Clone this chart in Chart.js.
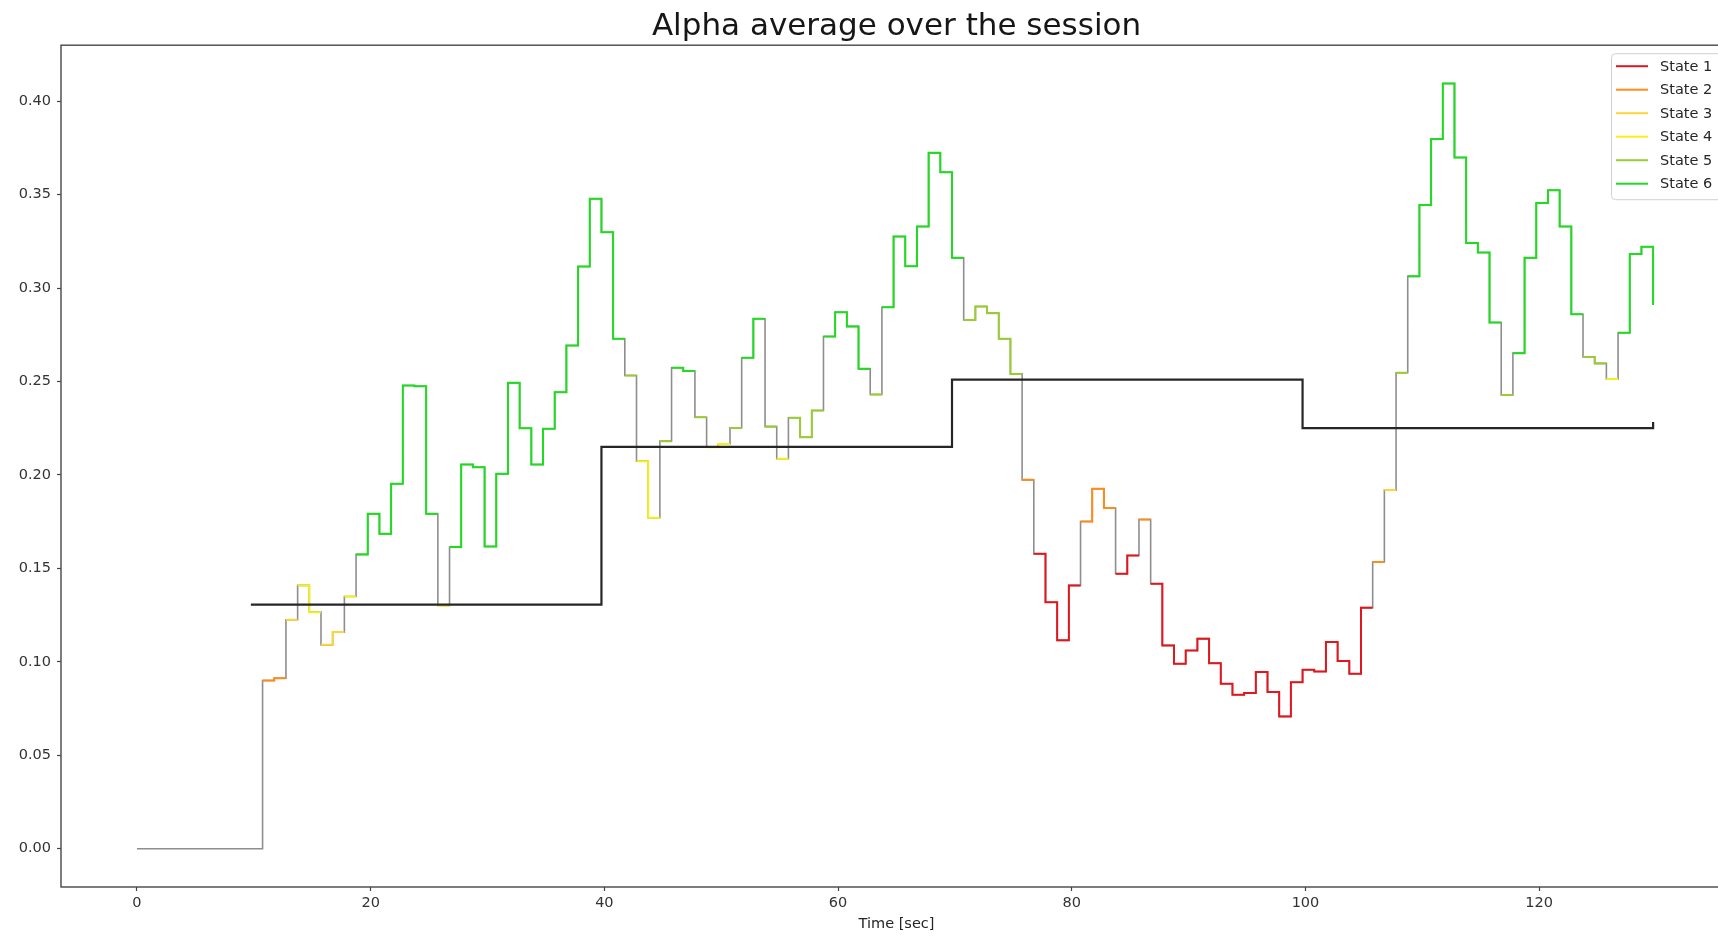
<!DOCTYPE html>
<html>
<head>
<meta charset="utf-8">
<title>Alpha average over the session</title>
<script src="https://cdn.jsdelivr.net/npm/chart.js@4.4.1/dist/chart.umd.min.js"></script>
<style>
  html, body { margin: 0; padding: 0; background: #ffffff; }
  #wrap { width: 1718px; height: 936px; overflow: hidden; position: relative; background: #ffffff; }
  canvas { display: block; }
</style>
</head>
<body>
<div id="wrap"><canvas id="chart" width="1732" height="936"></canvas></div>
<script>
// ---- series data -------------------------------------------------------
const stateNames  = ['State 1', 'State 2', 'State 3', 'State 4', 'State 5', 'State 6'];
const stateColors = ['#e3161e', '#ff8c1a', '#ffd43a', '#f5ef1a', '#9acd32', '#1fdc1f'];

// start time [sec] of each held alpha value; the last entry closes the series
const alphaTimes = [
  0, 10.75, 11.75, 12.75, 13.75, 14.75, 15.75, 16.75, 17.75, 18.75,
  19.75, 20.75, 21.75, 22.75, 23.75, 24.75, 25.75, 26.75, 27.75, 28.75,
  29.75, 30.75, 31.75, 32.75, 33.75, 34.75, 35.75, 36.75, 37.75, 38.75,
  39.75, 40.75, 41.75, 42.75, 43.75, 44.75, 45.75, 46.75, 47.75, 48.75,
  49.75, 50.75, 51.75, 52.75, 53.75, 54.75, 55.75, 56.75, 57.75, 58.75,
  59.75, 60.75, 61.75, 62.75, 63.75, 64.75, 65.75, 66.75, 67.75, 68.75,
  69.75, 70.75, 71.75, 72.75, 73.75, 74.75, 75.75, 76.75, 77.75, 78.75,
  79.75, 80.75, 81.75, 82.75, 83.75, 84.75, 85.75, 86.75, 87.75, 88.75,
  89.75, 90.75, 91.75, 92.75, 93.75, 94.75, 95.75, 96.75, 97.75, 98.75,
  99.75, 100.75, 101.75, 102.75, 103.75, 104.75, 105.75, 106.75, 107.75, 108.75,
  109.75, 110.75, 111.75, 112.75, 113.75, 114.75, 115.75, 116.75, 117.75, 118.75,
  119.75, 120.75, 121.75, 122.75, 123.75, 124.75, 125.75, 126.75, 127.75, 128.75,
  129.75
];
const alphaValues = [
  0.0000, 0.0900, 0.0912, 0.1225, 0.1409, 0.1266, 0.1091, 0.1159, 0.1350, 0.1575,
  0.1792, 0.1685, 0.1953, 0.2479, 0.2475, 0.1792, 0.1302, 0.1614, 0.2056, 0.2041,
  0.1617, 0.2006, 0.2493, 0.2250, 0.2056, 0.2247, 0.2443, 0.2693, 0.3116, 0.3478,
  0.3299, 0.2729, 0.2532, 0.2074, 0.1771, 0.2181, 0.2574, 0.2556, 0.2309, 0.2149,
  0.2166, 0.2252, 0.2627, 0.2836, 0.2259, 0.2087, 0.2306, 0.2202, 0.2345, 0.2741,
  0.2871, 0.2795, 0.2568, 0.2431, 0.2898, 0.3276, 0.3117, 0.3330, 0.3724, 0.3620,
  0.3162, 0.2830, 0.2902, 0.2866, 0.2729, 0.2541, 0.1974, 0.1578, 0.1319, 0.1115,
  0.1409, 0.1751, 0.1926, 0.1823, 0.1471, 0.1569, 0.1762, 0.1418, 0.1088, 0.0990,
  0.1061, 0.1124, 0.0993, 0.0883, 0.0824, 0.0833, 0.0945, 0.0838, 0.0708, 0.0891,
  0.0958, 0.0948, 0.1106, 0.1004, 0.0936, 0.1290, 0.1534, 0.1919, 0.2547, 0.3063,
  0.3445, 0.3798, 0.4095, 0.3699, 0.3241, 0.3191, 0.2816, 0.2428, 0.2652, 0.3162,
  0.3455, 0.3524, 0.3330, 0.2860, 0.2632, 0.2597, 0.2514, 0.2761, 0.3183, 0.3221,
  0.2910
];
// state (1..6) of each held value, 0 = no state yet
const alphaStates = [
  0, 2, 2, 3, 4, 4, 3, 3, 4, 6,
  6, 6, 6, 6, 6, 6, 4, 6, 6, 6,
  6, 6, 6, 6, 6, 6, 6, 6, 6, 6,
  6, 6, 5, 4, 4, 5, 6, 6, 5, 4,
  4, 5, 6, 6, 5, 4, 5, 5, 5, 6,
  6, 6, 6, 5, 6, 6, 6, 6, 6, 6,
  6, 5, 5, 5, 5, 5, 2, 1, 1, 1,
  1, 2, 2, 2, 1, 1, 2, 1, 1, 1,
  1, 1, 1, 1, 1, 1, 1, 1, 1, 1,
  1, 1, 1, 1, 1, 1, 2, 3, 5, 6,
  6, 6, 6, 6, 6, 6, 6, 5, 6, 6,
  6, 6, 6, 6, 5, 5, 4, 6, 6, 6,
  6
];

// session average, held from each start time
const meanTimes  = [9.75, 39.75, 69.75, 99.75, 129.75];
const meanValues = [0.1306, 0.2150, 0.2510, 0.2251, 0.2283];

const xTickValues = [0, 20, 40, 60, 80, 100, 120];
const xTickLabels = ['0', '20', '40', '60', '80', '100', '120'];
const yTickValues = [0.00, 0.05, 0.10, 0.15, 0.20, 0.25, 0.30, 0.35, 0.40];
const yTickLabels = ['0.00', '0.05', '0.10', '0.15', '0.20', '0.25', '0.30', '0.35', '0.40'];

// ---- dataset construction ----------------------------------------------
const FONT = "'DejaVu Sans', 'Liberation Sans', sans-serif";
const lastIdx = alphaValues.length - 1;

// consecutive samples of one state, drawn as separate stepped runs
function stateRuns(stateNo) {
  const pts = [];
  let i = 0;
  while (i < lastIdx) {
    if (alphaStates[i] !== stateNo) { i++; continue; }
    let j = i;
    while (j + 1 < lastIdx && alphaStates[j + 1] === stateNo) j++;
    for (let k = i; k <= j; k++) pts.push({ x: alphaTimes[k], y: alphaValues[k] });
    if (j + 1 === lastIdx && alphaStates[lastIdx] === stateNo) {
      pts.push({ x: alphaTimes[lastIdx], y: alphaValues[lastIdx] });
    } else {
      pts.push({ x: alphaTimes[j + 1], y: alphaValues[j] });
    }
    pts.push({ x: alphaTimes[j + 1], y: null });
    i = j + 1;
  }
  return pts;
}

const fullSeries = alphaTimes.map((t, k) => ({ x: t, y: alphaValues[k] }));
const meanSeries = meanTimes.map((t, k) => ({ x: t, y: meanValues[k] }));

const lineBase = { pointRadius: 0, pointHoverRadius: 0, fill: false, spanGaps: false, stepped: true, tension: 0 };

const datasets = [
  Object.assign({ label: 'mean', data: meanSeries, borderColor: '#262626', borderWidth: 2.2 }, lineBase)
];
stateNames.forEach((name, s) => {
  datasets.push(Object.assign({
    label: name, data: stateRuns(s + 1), borderColor: stateColors[s], borderWidth: 2
  }, lineBase));
});
datasets.push(Object.assign({ label: 'alpha', data: fullSeries, borderColor: '#8e8e8e', borderWidth: 1.6 }, lineBase));

// ---- plugins -----------------------------------------------------------
// axes frame (all four spines)
const framePlugin = {
  id: 'frame',
  afterDatasetsDraw(chart) {
    const { ctx, chartArea: a } = chart;
    ctx.save();
    ctx.strokeStyle = '#474747';
    ctx.lineWidth = 1.4;
    ctx.strokeRect(a.left, a.top, a.right - a.left, a.bottom - a.top);
    ctx.restore();
  }
};

// boxed legend in the upper right of the axes
const stateLegend = {
  id: 'stateLegend',
  afterDraw(chart) {
    const { ctx, chartArea: a } = chart;
    const boxRight = a.right - 7, boxLeft = boxRight - 114;
    const boxTop = a.top + 8, rowH = 23.5, boxH = 146;
    ctx.save();
    ctx.beginPath();
    ctx.roundRect(boxLeft + 0.5, boxTop + 0.5, boxRight - boxLeft, boxH, 4);
    ctx.fillStyle = 'rgba(255,255,255,0.85)';
    ctx.fill();
    ctx.strokeStyle = '#d0d0d0';
    ctx.lineWidth = 1;
    ctx.stroke();
    ctx.font = '14.5px ' + FONT;
    ctx.textBaseline = 'middle';
    ctx.textAlign = 'left';
    stateNames.forEach((name, s) => {
      const y = boxTop + 13 + s * rowH;
      ctx.beginPath();
      ctx.moveTo(boxLeft + 5, y);
      ctx.lineTo(boxLeft + 37, y);
      ctx.strokeStyle = stateColors[s];
      ctx.lineWidth = 2;
      ctx.stroke();
      ctx.fillStyle = '#262626';
      ctx.fillText(name, boxLeft + 49, y + 1);
    });
    ctx.restore();
  }
};

// ---- chart -------------------------------------------------------------
new Chart(document.getElementById('chart'), {
  type: 'line',
  data: { datasets },
  options: {
    responsive: false,
    devicePixelRatio: 1,
    animation: false,
    events: [],
    layout: { padding: 0 },
    plugins: {
      legend: { display: false },
      tooltip: { enabled: false },
      title: {
        display: true,
        text: 'Alpha average over the session',
        fullSize: false,
        color: '#161616',
        font: { family: FONT, size: 31, weight: 'normal', lineHeight: 1.2 },
        padding: { top: 8, bottom: 0 }
      }
    },
    scales: {
      x: {
        type: 'linear',
        min: -6.5,
        max: 136.5,
        afterBuildTicks: (scale) => { scale.ticks = xTickValues.map(v => ({ value: v })); },
        afterFit: (scale) => { scale.height = 49; },
        ticks: {
          autoSkip: false,
          maxRotation: 0,
          padding: 4,
          color: '#333333',
          font: { family: FONT, size: 14.5 },
          callback: (value, index) => xTickLabels[index]
        },
        grid: { drawOnChartArea: false, drawTicks: true, tickLength: 4, tickWidth: 1.2, tickColor: '#444444' },
        border: { display: false },
        title: {
          display: true,
          text: 'Time [sec]',
          color: '#262626',
          font: { family: FONT, size: 14.5 },
          padding: { top: 0, bottom: 3 }
        }
      },
      y: {
        type: 'linear',
        min: -0.0205,
        max: 0.4300,
        afterBuildTicks: (scale) => { scale.ticks = yTickValues.map(v => ({ value: v })); },
        afterFit: (scale) => { scale.width = 61; },
        ticks: {
          autoSkip: false,
          padding: 6,
          color: '#333333',
          font: { family: FONT, size: 14.5 },
          callback: (value, index) => yTickLabels[index]
        },
        grid: { drawOnChartArea: false, drawTicks: true, tickLength: 4, tickWidth: 1.2, tickColor: '#444444' },
        border: { display: false }
      }
    }
  },
  plugins: [framePlugin, stateLegend]
});
</script>
</body>
</html>
